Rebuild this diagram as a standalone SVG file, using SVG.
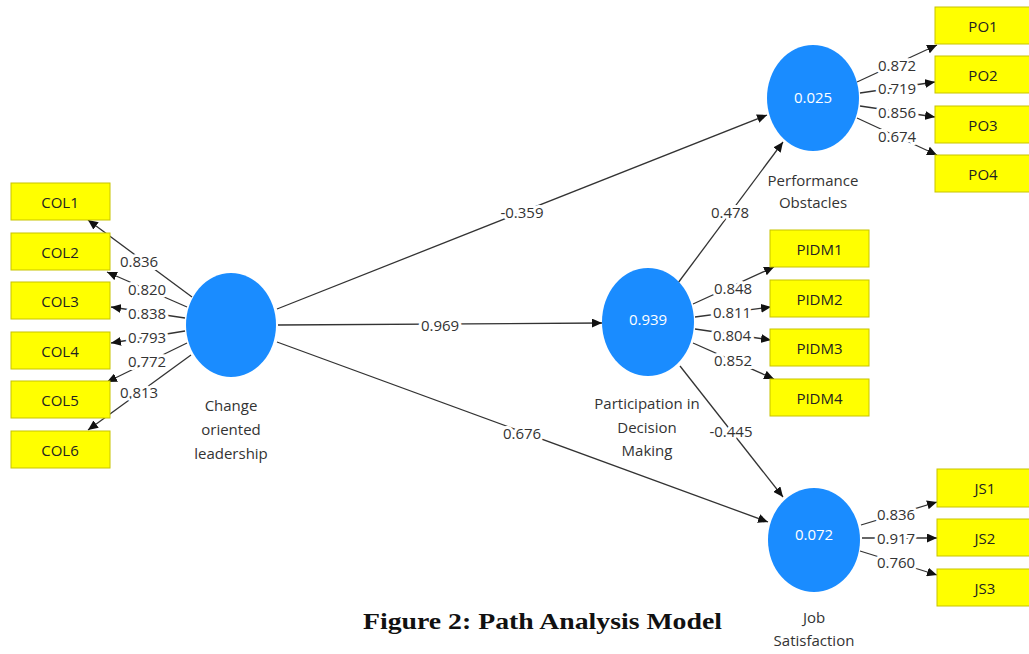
<svg xmlns="http://www.w3.org/2000/svg" width="1029" height="654" viewBox="0 0 1029 654">
<style>
.bg{fill:#ffffff}
.ind rect{fill:#ffff00;stroke:#c8c400;stroke-width:1}
.ind text{font-family:"Open Sans","Noto Sans",sans-serif;font-size:15px;fill:#222;text-anchor:middle;dominant-baseline:central}
.lv ellipse{fill:#1a8cff}
.lv .v{font-family:"Open Sans","Noto Sans",sans-serif;font-size:15px;fill:#ffffff;text-anchor:middle;dominant-baseline:central}
.lv .n{font-family:"Open Sans","Noto Sans",sans-serif;font-size:15px;fill:#333;text-anchor:middle;dominant-baseline:central}
.edges line{stroke:#333;stroke-width:1.3;marker-end:url(#ah)}
.lbl{font-family:"Open Sans","Noto Sans",sans-serif;font-size:15px;fill:#333;text-anchor:middle;dominant-baseline:central;stroke:#fff;stroke-width:6;paint-order:stroke;stroke-linejoin:round}
.cap{font-family:"Liberation Serif",serif;font-size:24px;font-weight:bold;fill:#111}
</style>
<defs>
<marker id="ah" markerWidth="10" markerHeight="9" refX="10" refY="4.5" orient="auto" markerUnits="userSpaceOnUse">
<path d="M0,0 L10,4.5 L0,9 z" fill="#111"/>
</marker>
</defs>
<rect class="bg" x="0" y="0" width="1029" height="654"/>

<g id="connectors" class="edges">
<line x1="277" y1="309" x2="767" y2="115"/>
<line x1="278" y1="325" x2="602" y2="323"/>
<line x1="277" y1="342" x2="768" y2="522"/>
<line x1="678" y1="283" x2="783" y2="142"/>
<line x1="680" y1="366" x2="783" y2="497"/>
<line x1="192" y1="297" x2="88" y2="220"/>
<line x1="187" y1="307" x2="107" y2="272"/>
<line x1="185" y1="318" x2="111" y2="307"/>
<line x1="185" y1="331" x2="111" y2="343"/>
<line x1="187" y1="343" x2="107" y2="382"/>
<line x1="191" y1="355" x2="88" y2="430"/>
<line x1="857" y1="82" x2="937" y2="45"/>
<line x1="860" y1="93" x2="935" y2="82"/>
<line x1="860" y1="106" x2="935" y2="117"/>
<line x1="857" y1="118" x2="937" y2="155"/>
<line x1="693" y1="304" x2="774" y2="267"/>
<line x1="695" y1="317" x2="771" y2="307"/>
<line x1="695" y1="329" x2="771" y2="340"/>
<line x1="693" y1="343" x2="774" y2="379"/>
<line x1="861" y1="525" x2="937" y2="502"/>
<line x1="862" y1="538" x2="937" y2="538"/>
<line x1="860" y1="551" x2="937" y2="575"/>
</g>

<g id="edge-labels">
<text class="lbl" x="522" y="212">-0.359</text>
<text class="lbl" x="440" y="325">0.969</text>
<text class="lbl" x="522" y="433">0.676</text>
<text class="lbl" x="730" y="212">0.478</text>
<text class="lbl" x="731" y="431">-0.445</text>
<text class="lbl" x="139" y="261">0.836</text>
<text class="lbl" x="147" y="289">0.820</text>
<text class="lbl" x="147" y="313">0.838</text>
<text class="lbl" x="147" y="337">0.793</text>
<text class="lbl" x="147" y="361">0.772</text>
<text class="lbl" x="139" y="392">0.813</text>
<text class="lbl" x="897" y="65">0.872</text>
<text class="lbl" x="897" y="88">0.719</text>
<text class="lbl" x="897" y="112">0.856</text>
<text class="lbl" x="897" y="136">0.674</text>
<text class="lbl" x="733" y="288">0.848</text>
<text class="lbl" x="732" y="312">0.811</text>
<text class="lbl" x="732" y="335">0.804</text>
<text class="lbl" x="733" y="360">0.852</text>
<text class="lbl" x="896" y="514">0.836</text>
<text class="lbl" x="896" y="538">0.917</text>
<text class="lbl" x="896" y="562">0.760</text>
</g>

<g id="col" class="lv">
<ellipse cx="231" cy="325" rx="45" ry="52"/>
<text class="n" x="231" y="405">Change</text>
<text class="n" x="231" y="429">oriented</text>
<text class="n" x="231" y="453">leadership</text>
</g>
<g id="po" class="lv">
<ellipse cx="813" cy="98" rx="46" ry="53"/>
<text class="v" x="813" y="97">0.025</text>
<text class="n" x="813" y="180">Performance</text>
<text class="n" x="813" y="202">Obstacles</text>
</g>
<g id="pidm" class="lv">
<ellipse cx="648" cy="322" rx="46" ry="54"/>
<text class="v" x="648" y="319">0.939</text>
<text class="n" x="647" y="403">Participation in</text>
<text class="n" x="647" y="427">Decision</text>
<text class="n" x="647" y="450">Making</text>
</g>
<g id="js" class="lv">
<ellipse cx="814" cy="540" rx="46" ry="52"/>
<text class="v" x="814" y="534">0.072</text>
<text class="n" x="814" y="617">Job</text>
<text class="n" x="814" y="640">Satisfaction</text>
</g>

<g id="COL1" class="ind"><rect x="11" y="183" width="99" height="37"/><text x="60" y="201.5">COL1</text></g>
<g id="COL2" class="ind"><rect x="11" y="233" width="99" height="37"/><text x="60" y="251.5">COL2</text></g>
<g id="COL3" class="ind"><rect x="11" y="282" width="99" height="37"/><text x="60" y="300.5">COL3</text></g>
<g id="COL4" class="ind"><rect x="11" y="332" width="99" height="37"/><text x="60" y="350.5">COL4</text></g>
<g id="COL5" class="ind"><rect x="11" y="381" width="99" height="37"/><text x="60" y="399.5">COL5</text></g>
<g id="COL6" class="ind"><rect x="11" y="431" width="99" height="37"/><text x="60" y="449.5">COL6</text></g>

<g id="PO1" class="ind"><rect x="935" y="7" width="96" height="37"/><text x="983" y="25.5">PO1</text></g>
<g id="PO2" class="ind"><rect x="935" y="56" width="96" height="37"/><text x="983" y="74.5">PO2</text></g>
<g id="PO3" class="ind"><rect x="935" y="106" width="96" height="37"/><text x="983" y="124.5">PO3</text></g>
<g id="PO4" class="ind"><rect x="935" y="155" width="96" height="37"/><text x="983" y="173.5">PO4</text></g>

<g id="PIDM1" class="ind"><rect x="770" y="230" width="99" height="37"/><text x="819.5" y="248.5">PIDM1</text></g>
<g id="PIDM2" class="ind"><rect x="770" y="280" width="99" height="37"/><text x="819.5" y="298.5">PIDM2</text></g>
<g id="PIDM3" class="ind"><rect x="770" y="329" width="99" height="37"/><text x="819.5" y="347.5">PIDM3</text></g>
<g id="PIDM4" class="ind"><rect x="770" y="379" width="99" height="37"/><text x="819.5" y="397.5">PIDM4</text></g>

<g id="JS1" class="ind"><rect x="937" y="469" width="96" height="38"/><text x="985" y="488">JS1</text></g>
<g id="JS2" class="ind"><rect x="937" y="519" width="96" height="37"/><text x="985" y="537.5">JS2</text></g>
<g id="JS3" class="ind"><rect x="937" y="569" width="96" height="37"/><text x="985" y="587.5">JS3</text></g>

<text class="cap" x="363" y="629" textLength="359" lengthAdjust="spacingAndGlyphs">Figure 2: Path Analysis Model</text>
</svg>
